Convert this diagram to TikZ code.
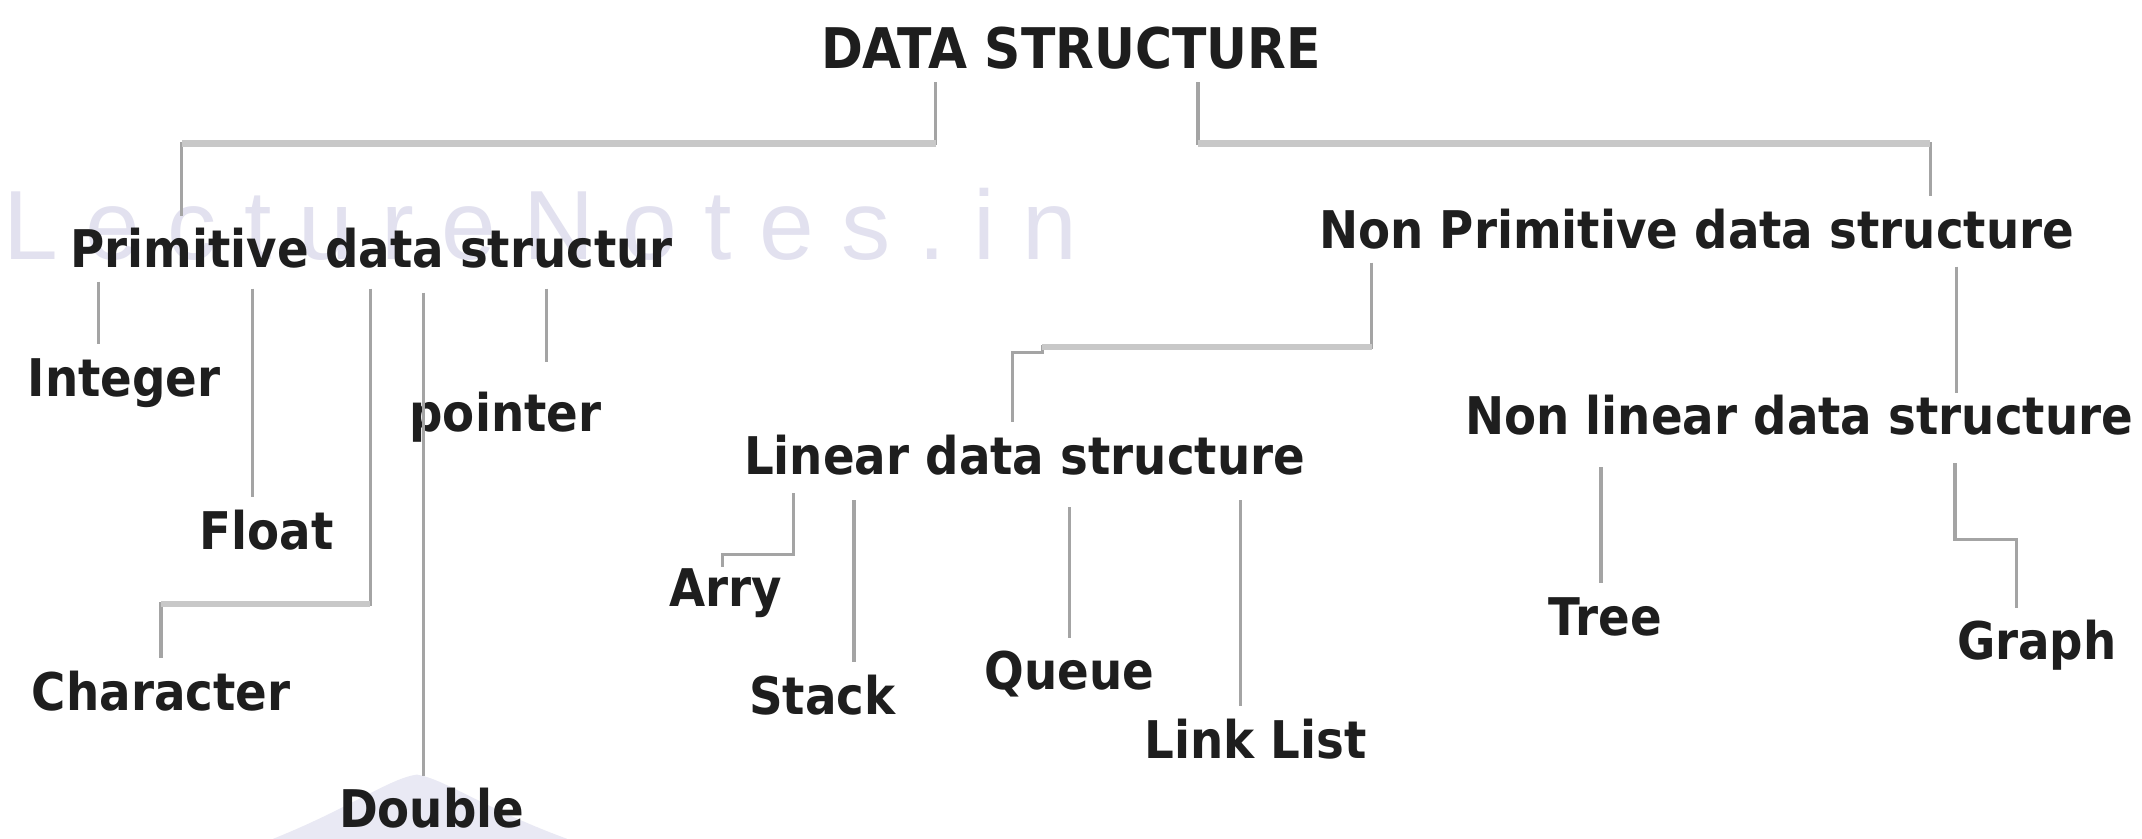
\documentclass[tikz,border=0pt]{standalone}
\usepackage{fontspec}
\newfontfamily\lblfont{DejaVu Sans}[FakeStretch=0.9]
\newfontfamily\wmfont{Liberation Sans}[LetterSpace=28]
\definecolor{ink}{HTML}{1E1E1E}
\definecolor{linegray}{HTML}{A4A4A4}
\definecolor{bargray}{HTML}{C8C8C8}
\definecolor{wmcolor}{HTML}{E2E1EF}
\definecolor{wmshade}{HTML}{E9E9F4}
\tikzset{
  lbl/.style={font=\lblfont\bfseries\fontsize{38}{40}\selectfont, text=ink,
    inner xsep=0pt, inner ysep=10pt, text height=28pt, text depth=0pt, anchor=base},
  conn/.style={draw=linegray, line width=2.5pt},
  bar/.style={draw=bargray, line width=5pt},
  thinbar/.style={draw=bargray, line width=4pt},
  wm/.style={font=\wmfont\fontsize{72}{74}\selectfont, text=wmcolor, inner sep=0pt, anchor=base west},
}
\begin{document}
\begin{tikzpicture}[x=1pt, y=-1pt]
  \useasboundingbox (0,0) rectangle (1568,614);
  \fill[white] (0,0) rectangle (1568,614);

  % faint background mark
  \node[wm] (wmark) at (2,190) {LectureNotes.in};
  \fill[wmshade] (200,614) .. controls (255,592) and (285,570) .. (305,567)
                 .. controls (325,570) and (355,592) .. (415,614) -- cycle;

  % labels
  \node[lbl, font=\lblfont\bfseries\fontsize{41}{43}\selectfont] (ds) at (784,50) {DATA STRUCTURE};
  \node[lbl] (prim)    at (272,196)  {Primitive data structur};
  \node[lbl] (nonprim) at (1242,182) {Non Primitive data structure};
  \node[lbl] (int)  at (91,290)   {Integer};
  \node[lbl] (flt)  at (195,402)  {Float};
  \node[lbl] (chr)  at (118,520)  {Character};
  \node[lbl] (dbl)  at (316,606)  {Double};
  \node[lbl] (ptr)  at (370,316)  {pointer};
  \node[lbl] (lin)  at (750,347)  {Linear data structure};
  \node[lbl] (nlin) at (1317,318) {Non linear data structure};
  \node[lbl] (arry) at (531,444)  {Arry};
  \node[lbl] (stk)  at (602,523)  {Stack};
  \node[lbl] (que)  at (783,505)  {Queue};
  \node[lbl] (lnk)  at (919,555)  {Link List};
  \node[lbl] (tree) at (1175,465) {Tree};
  \node[lbl] (grf)  at (1491,483) {Graph};

  % junction points
  \coordinate (jL) at (685,105);  \coordinate (kL) at (133,105);
  \coordinate (jR) at (877,105);  \coordinate (kR) at (1413,105);
  \coordinate (xInt) at (72,0);   \coordinate (xFlt) at (185,0);
  \coordinate (cA) at (271,442);  \coordinate (cB) at (118,442);
  \coordinate (xDbl) at (310,0);  \coordinate (xPtr) at (400,0);
  \coordinate (lA) at (1004,254); \coordinate (lB) at (763,254);
  \coordinate (lC) at (763,258);  \coordinate (lD) at (741,258);
  \coordinate (xNL) at (1432,0);
  \coordinate (aA) at (581,406);  \coordinate (aB) at (529,406);
  \coordinate (xStk) at (625,0);  \coordinate (xQue) at (783,0);
  \coordinate (xLnk) at (908,0);  \coordinate (xTree) at (1172,0);
  \coordinate (gA) at (1431,395); \coordinate (gB) at (1476,395);

  % top level
  \draw[conn] (ds.south -| jL) -- (jL) -- (kL) -- (kL |- prim.north);
  \draw[conn] (ds.south -| jR) -- (jR) -- (kR) -- (kR |- nonprim.north);
  \draw[bar] (jL) -- (kL);
  \draw[bar] (jR) -- (kR);

  % primitive types
  \draw[conn] (prim.south -| xInt) -- (xInt |- int.north);
  \draw[conn, shorten <=5pt] (prim.south -| xFlt) -- (xFlt |- flt.north);
  \draw[conn, shorten <=5pt] (prim.south -| cA) -- (cA) -- (cB) -- (cB |- chr.north);
  \draw[thinbar] (cA) -- (cB);
  \draw[conn, shorten <=8pt] (prim.south -| xDbl) -- (xDbl |- dbl.north);
  \draw[conn, shorten <=5pt, shorten >=13pt] (prim.south -| xPtr) -- (xPtr |- ptr.north);

  % non primitive types
  \draw[conn] (nonprim.south -| lA) -- (lA) -- (lB) -- (lC) -- (lD) -- (lD |- lin.north);
  \draw[thinbar] (lA) -- (lB);
  \draw[conn, shorten <=3pt, shorten >=-8pt] (nonprim.south -| xNL) -- (xNL |- nlin.north);

  % linear structures
  \draw[conn, shorten <=4pt] (lin.south -| aA) -- (aA) -- (aB) -- ++(0,9);
  \draw[conn, shorten <=9pt] (lin.south -| xStk) -- (xStk |- stk.north);
  \draw[conn, shorten <=14pt] (lin.south -| xQue) -- (xQue |- que.north);
  \draw[conn, shorten <=9pt] (lin.south -| xLnk) -- (xLnk |- lnk.north);

  % non linear structures
  \draw[conn, shorten <=14pt] (nlin.south -| xTree) -- (xTree |- tree.north);
  \draw[conn, shorten <=11pt] (nlin.south -| gA) -- (gA) -- (gB) -- (gB |- grf.north);
\end{tikzpicture}
\end{document}
